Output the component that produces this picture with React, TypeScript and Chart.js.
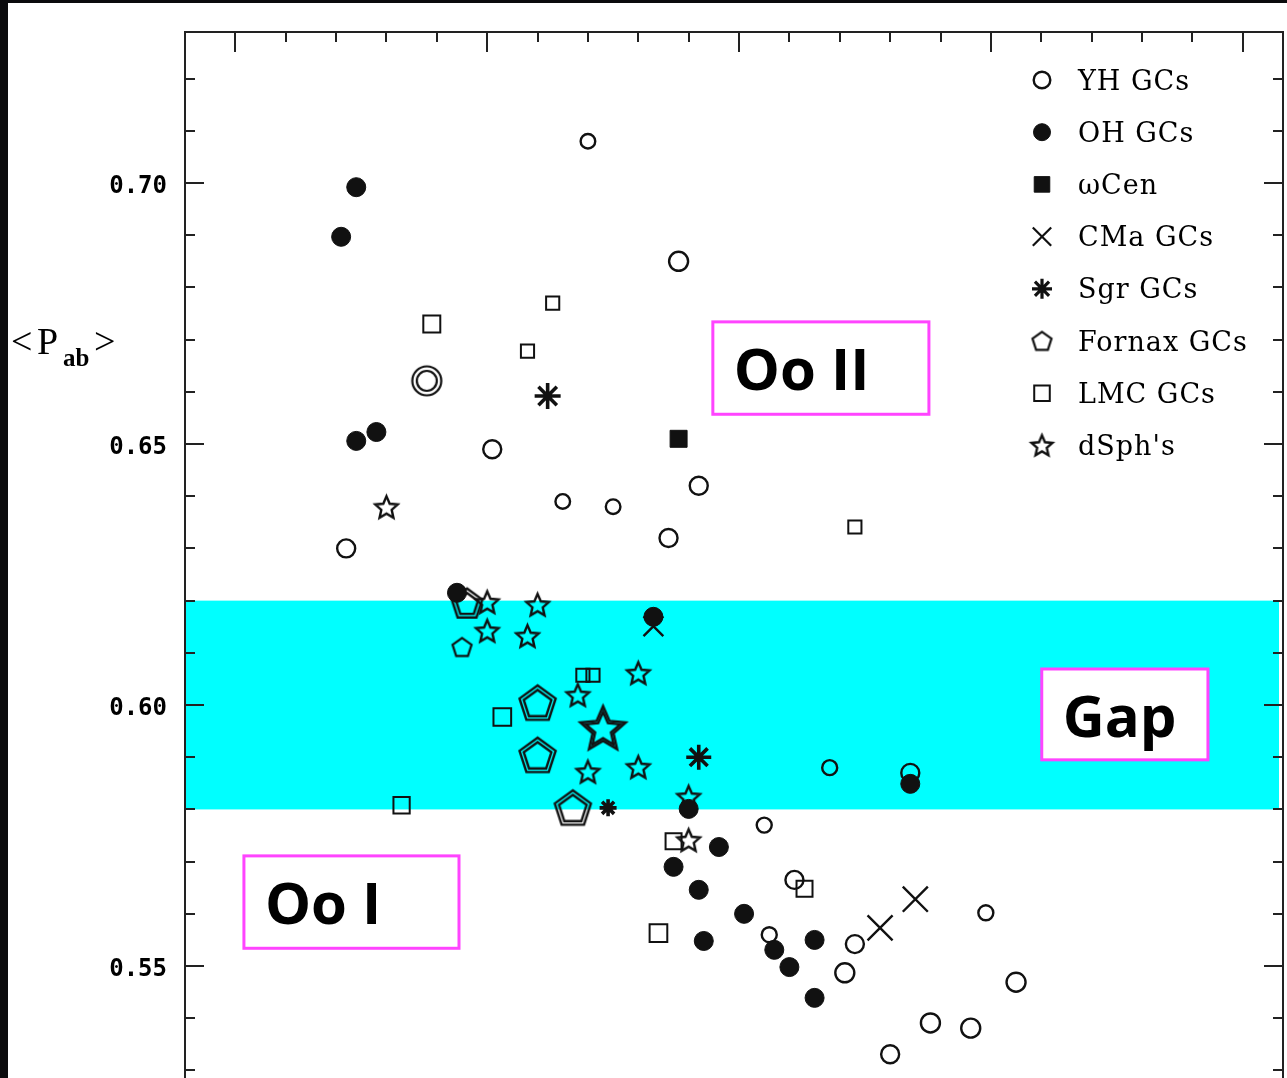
import React, { useEffect, useRef } from 'react';
import { Chart, registerables } from 'chart.js';
import { drawPoint } from 'chart.js/helpers';

Chart.register(...registerables);

// ---- axes ---------------------------------------------------------------
const FEH_MIN = -2.6;
const FEH_MAX = -0.42;
const PAB_MIN = 0.52855;
const PAB_MAX = 0.72893;

const yTickValues = [0.55, 0.6, 0.65, 0.7];
const yTickLabels = ['0.55', '0.60', '0.65', '0.70'];
const yTitleParts = ['<', 'P', 'ab', '>'];

// Oosterhoff gap in <Pab>
const GAP_LOW = 0.58;
const GAP_HIGH = 0.62;

// ---- series: [Fe/H] and <Pab> -------------------------------------------
const yhFeH = [-1.8, -1.62, -1.99, -1.58, -1.85, -1.75, -1.64, -2.28, -1.32, -1.16, -1.45, -1.39, -1.44, -1.27, -1.29, -1.01, -0.95, -1.12, -1.04, -1.2, -2.12];
const yhPab = [0.708, 0.685, 0.649, 0.642, 0.639, 0.638, 0.632, 0.630, 0.588, 0.587, 0.577, 0.5665, 0.556, 0.5542, 0.5487, 0.5602, 0.5469, 0.5391, 0.5381, 0.5331, 0.6621];

const ohFeH = [-2.26, -2.29, -2.22, -2.26, -2.06, -1.67, -1.16, -1.6, -1.54, -1.63, -1.58, -1.49, -1.57, -1.35, -1.43, -1.4, -1.35];
const ohPab = [0.6992, 0.6897, 0.6523, 0.6506, 0.6215, 0.6169, 0.5849, 0.5801, 0.5728, 0.569, 0.5646, 0.56, 0.5548, 0.555, 0.5531, 0.5498, 0.5439];

const omegaCenFeH = [-1.62];
const omegaCenPab = [0.651];

const cmaFeH = [-1.22, -1.15, -1.67];
const cmaPab = [0.5573, 0.5628, 0.6151];

const sgrFeH = [-1.88, -1.58, -1.76];
const sgrPab = [0.6592, 0.59, 0.5803];

const fornaxFeH = [-2.04, -2.05, -1.9, -1.9, -1.83];
const fornaxPab = [0.6195, 0.6111, 0.6004, 0.5904, 0.5803];

const lmcFeH = [-2.11, -1.87, -1.92, -1.27, -1.81, -1.79, -1.97, -2.17, -1.63, -1.37, -1.66];
const lmcPab = [0.673, 0.677, 0.6678, 0.6341, 0.6057, 0.6057, 0.5977, 0.5808, 0.5739, 0.5648, 0.5563];

const dsphFeH = [-2.2, -2.0, -1.9, -2.0, -1.92, -1.7, -1.82, -1.77, -1.8, -1.7, -1.6, -1.6];
const dsphPab = [0.6379, 0.6197, 0.6192, 0.6142, 0.6132, 0.6061, 0.6019, 0.5956, 0.5872, 0.5881, 0.5824, 0.5741];

const seriesNames = ['YH GCs', 'OH GCs', '\u03c9Cen', 'CMa GCs', 'Sgr GCs', 'Fornax GCs', 'LMC GCs', "dSph's"];

// region labels drawn in boxes on the plot
const regionNames = ['Oo II', 'Gap', 'Oo I'];

// ---- marker and layout styling -------------------------------------------
const INK = '#111';
const CLEAR = 'rgba(0,0,0,0)';

const yhRadius = [7.3, 9.5, 9, 9, 7.3, 7.3, 9, 9, 7.5, 9, 7.5, 9, 7.5, 9, 9.5, 7.5, 9.5, 9.5, 9.5, 9, 1];
const lmcRadius = [12, 9.3, 9.3, 9.3, 9.3, 9.3, 12.5, 11.5, 11.3, 11.3, 12.5];
const sgrRadius = [13, 12.5, 8.5];
const cmaRadius = [17.7, 17.7, 14];

type Kind = 'pentagon' | 'star' | 'ring';
const shapeCache = new Map<string, HTMLCanvasElement>();
function shape(kind: Kind, r: number, double: boolean, lw = 2.4): HTMLCanvasElement {
  const key = `${kind}-${r}-${double}-${lw}`;
  const hit = shapeCache.get(key);
  if (hit) return hit;
  const size = Math.ceil(2 * (r + lw + 2));
  const c = document.createElement('canvas');
  c.width = size;
  c.height = size;
  const g = c.getContext('2d')!;
  g.strokeStyle = INK;
  g.lineWidth = lw;
  g.lineJoin = 'miter';
  const cx = size / 2;
  const cy = size / 2 + (kind === 'ring' ? 0 : r * 0.08);
  const outline = (R: number) => {
    g.beginPath();
    if (kind === 'ring') {
      g.arc(cx, cy, R, 0, Math.PI * 2);
    } else {
      const n = kind === 'star' ? 10 : 5;
      for (let i = 0; i < n; i++) {
        const a = -Math.PI / 2 + (i * 2 * Math.PI) / n;
        const rr = kind === 'star' && i % 2 === 1 ? R * 0.46 : R;
        const px = cx + rr * Math.cos(a);
        const py = cy + rr * Math.sin(a);
        if (i === 0) g.moveTo(px, py);
        else g.lineTo(px, py);
      }
      g.closePath();
    }
    g.stroke();
  };
  outline(r);
  if (double) outline(r - (kind === 'star' ? 6 : 4.5));
  shapeCache.set(key, c);
  return c;
}

const zip = (xs: number[], ys: number[]) => xs.map((x, i) => ({ x, y: ys[i] }));

// label boxes in data units: [Fe/H] left, right, <Pab> top, bottom
const regionBoxes = [
  [-1.552, -1.123, 0.6734, 0.6557],
  [-0.899, -0.569, 0.6069, 0.5895],
  [-2.483, -2.056, 0.5711, 0.5534],
];

const LEGEND_X = 1042;
const LEGEND_TEXT_X = 1078;
const LEGEND_Y0 = 80;
const LEGEND_DY = 52.2;

const legendMarkers = () => [
  { pointStyle: 'circle', radius: 8.3, fill: false, lw: 2.4 },
  { pointStyle: 'circle', radius: 8.5, fill: true, lw: 1 },
  { pointStyle: 'rect', radius: 11, fill: true, lw: 1 },
  { pointStyle: 'crossRot', radius: 13, fill: false, lw: 2.2 },
  { pointStyle: 'star', radius: 10, fill: false, lw: 3.2 },
  { pointStyle: shape('pentagon', 10, false, 2.2), radius: 10, fill: false, lw: 0 },
  { pointStyle: 'rect', radius: 11, fill: false, lw: 2 },
  { pointStyle: shape('star', 11, false, 2.4), radius: 10, fill: false, lw: 0 },
];

const paperPlugin = {
  id: 'paper',
  beforeDraw(chart: any) {
    const { ctx, width, height } = chart;
    ctx.save();
    ctx.fillStyle = '#0b0b0d';
    ctx.fillRect(0, 0, width, height);
    ctx.fillStyle = '#ffffff';
    ctx.fillRect(8, 3, width - 8, height - 3);
    ctx.restore();
  },
  beforeDatasetsDraw(chart: any) {
    const { ctx, chartArea: a, scales } = chart;
    const top = scales.y.getPixelForValue(GAP_HIGH);
    const bottom = scales.y.getPixelForValue(GAP_LOW);
    ctx.save();
    ctx.fillStyle = '#00ffff';
    ctx.fillRect(a.left, top, a.right - a.left - 4, bottom - top);
    ctx.restore();
  },
  afterDatasetsDraw(chart: any) {
    const { ctx, scales } = chart;
    ctx.save();
    regionBoxes.forEach((b, i) => {
      const l = scales.x.getPixelForValue(b[0]);
      const r = scales.x.getPixelForValue(b[1]);
      const t = scales.y.getPixelForValue(b[2]);
      const bt = scales.y.getPixelForValue(b[3]);
      ctx.fillStyle = '#ffffff';
      ctx.fillRect(l, t, r - l, bt - t);
      ctx.strokeStyle = '#ff44ff';
      ctx.lineWidth = 3;
      ctx.strokeRect(l, t, r - l, bt - t);
      ctx.fillStyle = '#000';
      ctx.font = 'bold 58px "Open Sans"';
      ctx.textAlign = 'left';
      ctx.textBaseline = 'alphabetic';
      ctx.fillText(regionNames[i], l + 21, t + 68);
    });
    ctx.restore();
  },
  afterDraw(chart: any) {
    const { ctx, chartArea: a, scales } = chart;
    const { x, y } = scales;
    ctx.save();
    // frame
    ctx.strokeStyle = '#222';
    ctx.lineWidth = 2;
    ctx.beginPath();
    ctx.moveTo(a.left, a.bottom + 2);
    ctx.lineTo(a.left, a.top);
    ctx.lineTo(a.right, a.top);
    ctx.lineTo(a.right, a.bottom + 2);
    ctx.stroke();
    // inward ticks on the <Pab> axes
    ctx.beginPath();
    for (let k = Math.ceil(PAB_MIN * 100); k <= Math.floor(PAB_MAX * 100); k++) {
      const py = Math.round(y.getPixelForValue(k / 100));
      const len = k % 5 === 0 ? 19 : 10;
      ctx.moveTo(a.left, py);
      ctx.lineTo(a.left + len, py);
      ctx.moveTo(a.right, py);
      ctx.lineTo(a.right - len, py);
    }
    // inward ticks on the top [Fe/H] axis
    for (let k = Math.ceil(FEH_MIN * 10); k <= Math.floor(FEH_MAX * 10); k++) {
      const px = Math.round(x.getPixelForValue(k / 10));
      const len = k % 5 === 0 ? 20 : 10;
      ctx.moveTo(px, a.top);
      ctx.lineTo(px, a.top + len);
    }
    ctx.stroke();

    // tick labels
    ctx.fillStyle = '#000';
    ctx.font = 'bold 24px "DejaVu Sans Mono"';
    ctx.textAlign = 'right';
    ctx.textBaseline = 'alphabetic';
    yTickValues.forEach((v, i) => {
      ctx.fillText(yTickLabels[i], a.left - 18, y.getPixelForValue(v) + 9.5);
    });

    // axis title <P_ab>
    ctx.textAlign = 'left';
    const base = 354;
    ctx.font = '38px "Liberation Serif"';
    ctx.fillText(yTitleParts[0], 11, base);
    ctx.fillText(yTitleParts[1], 37, base);
    ctx.font = 'bold 25px "Liberation Serif"';
    ctx.fillText(yTitleParts[2], 63, base + 12);
    ctx.font = '38px "Liberation Serif"';
    ctx.fillText(yTitleParts[3], 94, base);

    // legend
    const markers = legendMarkers();
    markers.forEach((m, i) => {
      const ly = LEGEND_Y0 + LEGEND_DY * i;
      ctx.fillStyle = m.fill ? INK : CLEAR;
      ctx.strokeStyle = INK;
      ctx.lineWidth = m.lw;
      drawPoint(ctx, { pointStyle: m.pointStyle as any, radius: m.radius, rotation: 0, borderWidth: m.lw }, LEGEND_X, ly);
      ctx.fillStyle = '#000';
      ctx.font = '27px "DejaVu Serif"';
      (ctx as any).letterSpacing = '1px';
      ctx.textAlign = 'left';
      ctx.fillText(seriesNames[i], LEGEND_TEXT_X, ly + 9.5);
      (ctx as any).letterSpacing = '0px';
    });
    ctx.restore();
  },
};

export default function App() {
  const ref = useRef<HTMLCanvasElement>(null);

  useEffect(() => {
    if (!ref.current) return;
    const bigPent = shape('pentagon', 19, true);
    const midPent = shape('pentagon', 16, true);
    const smallPent = shape('pentagon', 10, false, 2.2);
    const smallStar = shape('star', 11.8, false);
    const bigStar = shape('star', 24, true);
    const ring = shape('ring', 14.5, true, 2.2);

    const datasets: any[] = [
      {
        label: seriesNames[1],
        data: zip(ohFeH, ohPab),
        pointStyle: 'circle',
        pointRadius: 9.5,
        backgroundColor: INK,
        borderColor: INK,
        borderWidth: 1,
      },
      {
        label: seriesNames[2],
        data: zip(omegaCenFeH, omegaCenPab),
        pointStyle: 'rect',
        pointRadius: 12,
        backgroundColor: INK,
        borderColor: INK,
        borderWidth: 1,
      },
      {
        label: seriesNames[0],
        data: zip(yhFeH, yhPab),
        pointStyle: yhFeH.map((_, i) => (i === yhFeH.length - 1 ? ring : 'circle')),
        pointRadius: yhRadius,
        backgroundColor: CLEAR,
        borderColor: INK,
        borderWidth: 2.4,
      },
      {
        label: seriesNames[3],
        data: zip(cmaFeH, cmaPab),
        pointStyle: 'crossRot',
        pointRadius: cmaRadius,
        backgroundColor: CLEAR,
        borderColor: INK,
        borderWidth: 2.4,
      },
      {
        label: seriesNames[4],
        data: zip(sgrFeH, sgrPab),
        pointStyle: 'star',
        pointRadius: sgrRadius,
        backgroundColor: CLEAR,
        borderColor: INK,
        borderWidth: 3.6,
      },
      {
        label: seriesNames[5],
        data: zip(fornaxFeH, fornaxPab),
        pointStyle: [midPent, smallPent, bigPent, bigPent, bigPent],
        pointRadius: 10,
        backgroundColor: CLEAR,
        borderColor: INK,
      },
      {
        label: seriesNames[6],
        data: zip(lmcFeH, lmcPab),
        pointStyle: 'rect',
        pointRadius: lmcRadius,
        backgroundColor: CLEAR,
        borderColor: INK,
        borderWidth: 2,
      },
      {
        label: seriesNames[7],
        data: zip(dsphFeH, dsphPab),
        pointStyle: dsphFeH.map((_, i) => (i === 7 ? bigStar : smallStar)),
        pointRadius: 10,
        backgroundColor: CLEAR,
        borderColor: INK,
      },
    ];

    const chart = new Chart(ref.current, {
      type: 'scatter',
      data: { datasets },
      options: {
        animation: false,
        responsive: false,
        maintainAspectRatio: false,
        devicePixelRatio: 1,
        layout: { autoPadding: false, padding: { left: 185, top: 32, right: 4, bottom: 0 } },
        scales: {
          x: { type: 'linear', min: FEH_MIN, max: FEH_MAX, display: false },
          y: { type: 'linear', min: PAB_MIN, max: PAB_MAX, display: false },
        },
        plugins: {
          legend: { display: false },
          tooltip: { enabled: false },
        },
        elements: { point: { hoverRadius: 0 } },
      } as any,
      plugins: [paperPlugin],
    });
    return () => chart.destroy();
  }, []);

  return (
    <div
      style={{
        position: 'fixed',
        left: 0,
        top: 0,
        width: 1287,
        height: 1078,
        overflow: 'hidden',
        background: '#0b0b0d',
      }}
    >
      <canvas ref={ref} width={1287} height={1078} style={{ display: 'block' }} />
    </div>
  );
}
